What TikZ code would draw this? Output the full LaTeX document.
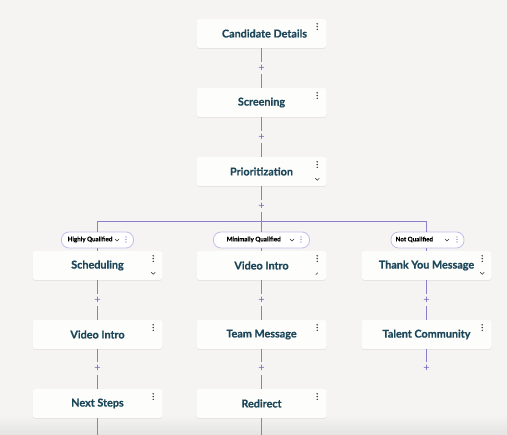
\documentclass[tikz,border=0pt]{standalone}
\usepackage{fontspec}
\setmainfont{Lato}[BoldFeatures={FakeBold=0.6}]
\usetikzlibrary{shadows,calc}
\definecolor{bg}{HTML}{F5F4F2}
\definecolor{bgdark}{HTML}{E4E4E2}
\definecolor{boxfill}{HTML}{FDFDFB}
\definecolor{ink}{HTML}{1C4659}
\definecolor{conn}{HTML}{8A80CA}
\definecolor{plusc}{HTML}{7266B8}
\definecolor{pillline}{HTML}{C4BCEA}
\definecolor{iconc}{HTML}{333333}
\tikzset{
  stepbox/.style={draw=none, fill=boxfill, rounded corners=3pt, minimum width=130pt, minimum height=29pt,
    inner sep=0pt, font=\fontsize{10.8}{12}\selectfont\bfseries, text=ink,
    drop shadow={opacity=0.12, shadow xshift=0pt, shadow yshift=-1pt}},
  pill/.style={draw=pillline, fill=white, rounded corners=7.5pt, minimum height=16pt, inner sep=0pt, line width=0.8pt},
  pilltext/.style={font=\fontsize{6.2}{7}\selectfont\bfseries, text=black, inner sep=0pt, anchor=west},
  plusn/.style={text=plusc, font=\fontsize{11}{11}\selectfont, inner sep=0pt, minimum size=12pt},
  conline/.style={draw=conn, line width=0.9pt},
}
\newcommand{\menudots}[2]{%
  \fill[iconc] ($(#1.north east)+(-9.5,#2)$) circle (0.8pt);
  \fill[iconc] ($(#1.north east)+(-9.5,#2+2.8)$) circle (0.8pt);
  \fill[iconc] ($(#1.north east)+(-9.5,#2+5.6)$) circle (0.8pt);}
\newcommand{\chev}[1]{%
  \draw[iconc, line width=0.5pt] ($(#1)+(-2,-1)$) -- ($(#1)+(0,1)$) -- ($(#1)+(2,-1)$);}
\begin{document}
\begin{tikzpicture}[x=1pt,y=-1pt]
\fill[bg] (0,0) rectangle (507,435);
\useasboundingbox (0,0) rectangle (507,435);
\shade[top color=bg, bottom color=bgdark] (0,415) rectangle (507,435);

% main column
\node[stepbox] (cand) at (261.5,33.5) {\hspace{6pt}Candidate Details};
\node[stepbox] (scr) at (261.5,102.5) {Screening};
\node[stepbox] (prio) at (261.5,171.5) {Prioritization};
\node[plusn] (p1) at (261.5,68) {+};
\node[plusn] (p2) at (261.5,137) {+};
\node[plusn] (p3) at (261.5,206) {+};
\coordinate (j) at (261.5,221.5);

% pills
\node[pill, minimum width=72pt] (hq) at (97.5,240) {};
\node[pill, minimum width=96pt] (mq) at (261.5,240) {};
\node[pill, minimum width=73pt] (nq) at (427.5,240) {};
\node[pilltext] (hqt) at (67.5,239.5) {Highly Qualified};
\node[pilltext] (mqt) at (226.5,239.5) {Minimally Qualified};
\node[pilltext] (nqt) at (395.5,239.5) {Not Qualified};

% row 2-4
\node[stepbox] (sched) at (97.5,265.5) {Scheduling};
\node[stepbox] (vi2) at (261.5,265.5) {Video Intro};
\node[stepbox] (thx) at (426.5,265.5) {Thank You Message};
\node[plusn] (q1) at (97.5,300) {+};
\node[plusn] (q2) at (261.5,300) {+};
\node[plusn] (q3) at (426.5,300) {+};
\node[stepbox] (vi1) at (97.5,334.5) {Video Intro};
\node[stepbox] (team) at (261.5,334.5) {Team Message};
\node[stepbox] (tal) at (426.5,334.5) {Talent Community};
\node[plusn] (r1) at (97.5,368.5) {+};
\node[plusn] (r2) at (261.5,368.5) {+};
\node[plusn] (r3) at (426.5,368.5) {+};
\node[stepbox] (next) at (97.5,403.5) {Next Steps};
\node[stepbox] (redir) at (261.5,403.5) {Redirect};
\coordinate (e1) at (97.5,435);
\coordinate (e2) at (261.5,435);

% connectors
\draw[conline] (cand) -- (p1) -- (scr);
\draw[conline] (scr) -- (p2) -- (prio);
\draw[conline] (prio) -- (p3) -- (j);
\draw[conline] (j) -- (mq.north);
\draw[conline] (hq.north) |- (j) -| ([xshift=-1pt]nq.north);
\draw[conline] (hq) -- (sched);
\draw[conline] (mq) -- (vi2);
\draw[conline] ([xshift=-1pt]nq.south) -- (thx);
\draw[conline] (sched) -- (q1) -- (vi1);
\draw[conline] (vi2) -- (q2) -- (team);
\draw[conline] (thx) -- (q3) -- (tal);
\draw[conline] (vi1) -- (r1) -- (next);
\draw[conline] (team) -- (r2) -- (redir);
\draw[conline] (tal) -- (r3);
\draw[conline] (next) -- (e1);
\draw[conline] (redir) -- (e2);

% menu dots on boxes
\menudots{cand}{5}
\menudots{scr}{5}
\menudots{prio}{5}
\menudots{sched}{5}
\menudots{vi2}{5}
\menudots{thx}{5}
\menudots{vi1}{5}
\menudots{team}{5}
\menudots{tal}{5}
\menudots{next}{5}
\menudots{redir}{5}
% chevrons in boxes
\chev{$(prio.south east)+(-9.5,-7)$}
\chev{$(sched.south east)+(-9.5,-7)$}
\chev{$(thx.south east)+(-9.5,-7)$}
\draw[iconc, line width=0.5pt] ($(vi2.south east)+(-11,-5.5)$) -- ($(vi2.south east)+(-9,-7.5)$);

% pill icons
\chev{117,240}
\chev{292,240}
\chev{447,240}
\foreach \px in {126,301,457}{
  \fill[plusc] (\px,237) circle (0.65pt);
  \fill[plusc] (\px,239.5) circle (0.65pt);
  \fill[plusc] (\px,242) circle (0.65pt);
}
\end{tikzpicture}
\end{document}
